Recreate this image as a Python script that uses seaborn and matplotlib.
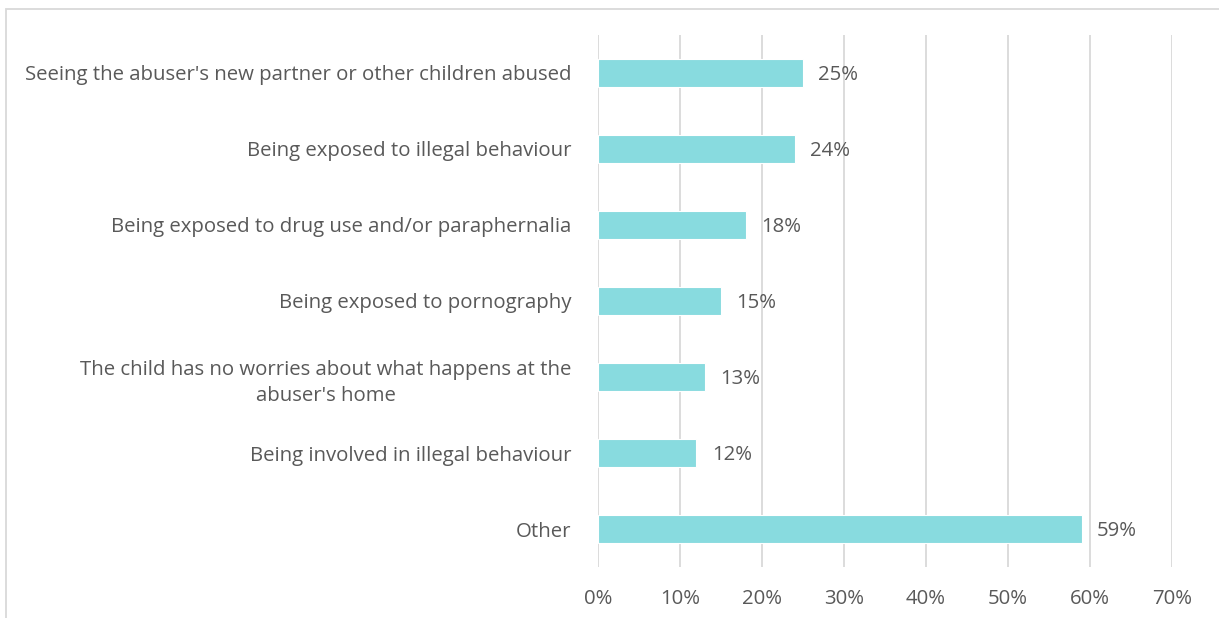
import matplotlib
matplotlib.use("Agg")
import matplotlib.pyplot as plt
from matplotlib.patches import Rectangle
from matplotlib.ticker import FuncFormatter, MultipleLocator
import seaborn as sns
import pandas as pd

categories = [
    "Seeing the abuser's new partner or other children abused",
    "Being exposed to illegal behaviour",
    "Being exposed to drug use and/or paraphernalia",
    "Being exposed to pornography",
    "The child has no worries about what happens at the\nabuser's home",
    "Being involved in illegal behaviour",
    "Other",
]
values = [25, 24, 18, 15, 13, 12, 59]

df = pd.DataFrame({"category": categories, "value": values})

sns.set_theme(style="white")
plt.rcParams["font.family"] = ["Open Sans", "DejaVu Sans"]

text_color = "#595959"
grid_color = "#d9d9d9"
bar_color = "#88dbdf"
fs = 14.7

fig = plt.figure(figsize=(12.19, 6.18), dpi=100)
ax = fig.add_axes([0.4906, 0.0825, 0.4709, 0.8609])

sns.barplot(data=df, x="value", y="category", orient="h", color=bar_color,
            width=0.36, saturation=1, edgecolor="white", linewidth=0.8, ax=ax)

ax.set_xlim(0, 70)
ax.set_ylim(6.5, -0.5)
ax.xaxis.set_major_locator(MultipleLocator(10))
ax.xaxis.set_major_formatter(FuncFormatter(lambda v, _: f"{v:.0f}%"))
ax.grid(axis="x", color=grid_color, linewidth=1.3)
ax.set_axisbelow(True)
for s in ax.spines.values():
    s.set_visible(False)
ax.set_xlabel("")
ax.set_ylabel("")
ax.tick_params(axis="both", length=0, labelsize=fs, colors=text_color)
ax.tick_params(axis="x", pad=16)
ax.tick_params(axis="y", pad=19)
for lbl in ax.get_yticklabels():
    lbl.set_multialignment("center")
    lbl.set_linespacing(1.45)

for i, v in enumerate(values):
    ax.annotate(f"{v}%", xy=(v, i), xytext=(11, -1.5), textcoords="offset points",
                va="center", ha="left", fontsize=fs, color=text_color)

# Outer frame of the chart area
fig.patches.append(Rectangle((6 / 1219, -0.05), 1.2, 1 - 9 / 618 + 0.05,
                             transform=fig.transFigure, fill=False,
                             edgecolor=grid_color, linewidth=1.3))

fig.savefig("out.png", dpi=100, facecolor="white")
